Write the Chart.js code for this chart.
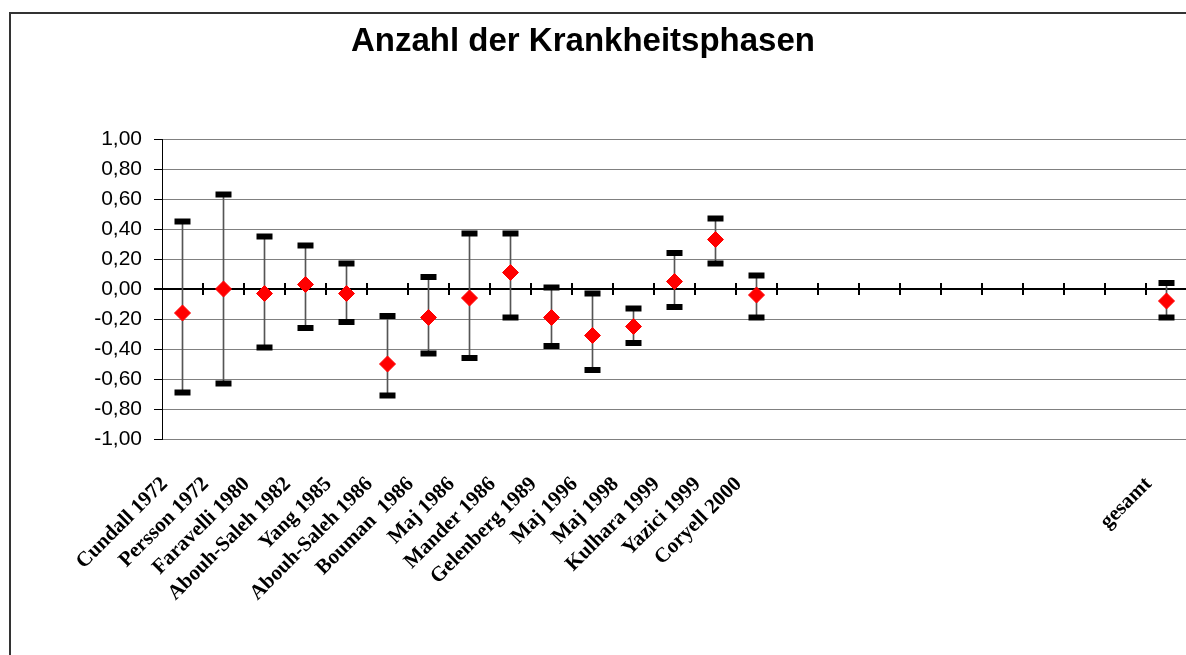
<!DOCTYPE html>
<html>
<head>
<meta charset="utf-8">
<script src="https://cdn.jsdelivr.net/npm/chart.js@4/dist/chart.umd.min.js"></script>
<style>
  html, body { margin: 0; padding: 0; background: #fff; overflow: hidden; width: 1186px; height: 655px; }
  #frame { position: absolute; left: 9px; top: 12px; width: 1400px; height: 900px; border: 2px solid #333; box-sizing: border-box; }
  #wrap { position: absolute; left: 0; top: 0; width: 1201px; height: 655px; }
  #title { position: absolute; left: 283px; width: 600px; top: 20px; text-align: center; font: bold 33px "Liberation Sans", Arial, sans-serif; color: #000; line-height: 40px; white-space: nowrap; }
</style>
</head>
<body>
<div id="frame"></div>
<div id="wrap"><canvas id="c"></canvas></div>
<div id="title"></div>
<script>
const categories = ['Cundall 1972','Persson 1972','Faravelli 1980','Abouh-Saleh 1982','Yang 1985','Abouh-Saleh 1986','Bouman  1986','Maj 1986','Mander 1986','Gelenberg 1989','Maj 1996','Maj 1998','Kulhara 1999','Yazici 1999','Coryell 2000','','','','','','','','','','gesamt'];
const effect = [-0.16, 0.00, -0.03, 0.03, -0.03, -0.50, -0.19, -0.06, 0.11, -0.19, -0.31, -0.25, 0.05, 0.33, -0.04, null, null, null, null, null, null, null, null, null, -0.08];
const upper  = [0.45, 0.63, 0.35, 0.29, 0.17, -0.18, 0.08, 0.37, 0.37, 0.01, -0.03, -0.13, 0.24, 0.47, 0.09, null, null, null, null, null, null, null, null, null, 0.04];
const lower  = [-0.69, -0.63, -0.39, -0.26, -0.22, -0.71, -0.43, -0.46, -0.19, -0.38, -0.54, -0.36, -0.12, 0.17, -0.19, null, null, null, null, null, null, null, null, null, -0.19];
const yMin = -1, yMax = 1, yStep = 0.2;
const title = 'Anzahl der Krankheitsphasen';

document.getElementById('title').textContent = title;
const ranges = lower.map((l, i) => (l === null ? null : [l, upper[i]]));

const zeroAxisTicks = {
  id: 'zeroAxisTicks',
  beforeDatasetsDraw(chart) {
    const xs = chart.scales.x, ys = chart.scales.y, ctx = chart.ctx;
    const y0 = ys.getPixelForValue(0);
    const half = (xs.getPixelForValue(1) - xs.getPixelForValue(0)) / 2;
    ctx.save();
    ctx.strokeStyle = '#000';
    ctx.lineWidth = 2;
    ctx.beginPath();
    for (let i = 0; i < categories.length; i++) {
      const px = Math.round(xs.getPixelForValue(i) + half);
      ctx.moveTo(px, y0 - 6);
      ctx.lineTo(px, y0 + 6);
    }
    ctx.stroke();
    ctx.restore();
  }
};

new Chart(document.getElementById('c'), {
  type: 'bar',
  data: {
    labels: categories,
    datasets: [
      {
        type: 'line', data: effect, showLine: false, order: 0,
        pointStyle: 'rectRot', pointRadius: 8, pointHoverRadius: 8,
        pointBackgroundColor: '#ff0000', pointBorderColor: '#ff0000', pointBorderWidth: 1
      },
      {
        type: 'line', data: upper, showLine: false, order: 1,
        pointStyle: 'line', pointRadius: 8, pointHoverRadius: 8,
        pointBorderColor: '#000', pointBorderWidth: 6
      },
      {
        type: 'line', data: lower, showLine: false, order: 1,
        pointStyle: 'line', pointRadius: 8, pointHoverRadius: 8,
        pointBorderColor: '#000', pointBorderWidth: 6
      },
      {
        type: 'bar', data: ranges, order: 2,
        backgroundColor: '#555', borderWidth: 0, barThickness: 1
      }
    ]
  },
  options: {
    responsive: true,
    maintainAspectRatio: false,
    animation: false,
    events: [],
    layout: { padding: { top: 139, left: 0, right: 0, bottom: 0 } },
    plugins: {
      legend: { display: false },
      tooltip: { enabled: false },
      title: { display: false }
    },
    scales: {
      x: {
        offset: true,
        grid: { display: false, drawTicks: false },
        border: { display: false },
        ticks: {
          autoSkip: false, minRotation: 45, maxRotation: 45, padding: 33, labelOffset: -18, color: '#000',
          font: { family: '"Liberation Serif", "Times New Roman", serif', size: 21, weight: 'bold' }
        },
        afterFit(scale) { scale.height = 216; scale.paddingLeft = 0; scale.paddingRight = 0; }
      },
      y: {
        min: yMin, max: yMax,
        border: { display: true, color: '#000', width: 1 },
        grid: {
          color: (c) => (c.tick && Math.abs(c.tick.value) < 1e-9 ? '#000' : '#808080'),
          lineWidth: (c) => (c.tick && Math.abs(c.tick.value) < 1e-9 ? 2 : 1),
          tickColor: '#000', tickLength: 8
        },
        ticks: {
          stepSize: yStep, padding: 12, color: '#000',
          font: { family: '"Liberation Sans", Arial, sans-serif', size: 21 },
          callback: (v) => Number(v).toFixed(2).replace('.', ',')
        },
        afterFit(scale) { scale.width = 162; scale.paddingTop = 0; scale.paddingBottom = 0; }
      }
    }
  },
  plugins: [zeroAxisTicks]
});
</script>
</body>
</html>
